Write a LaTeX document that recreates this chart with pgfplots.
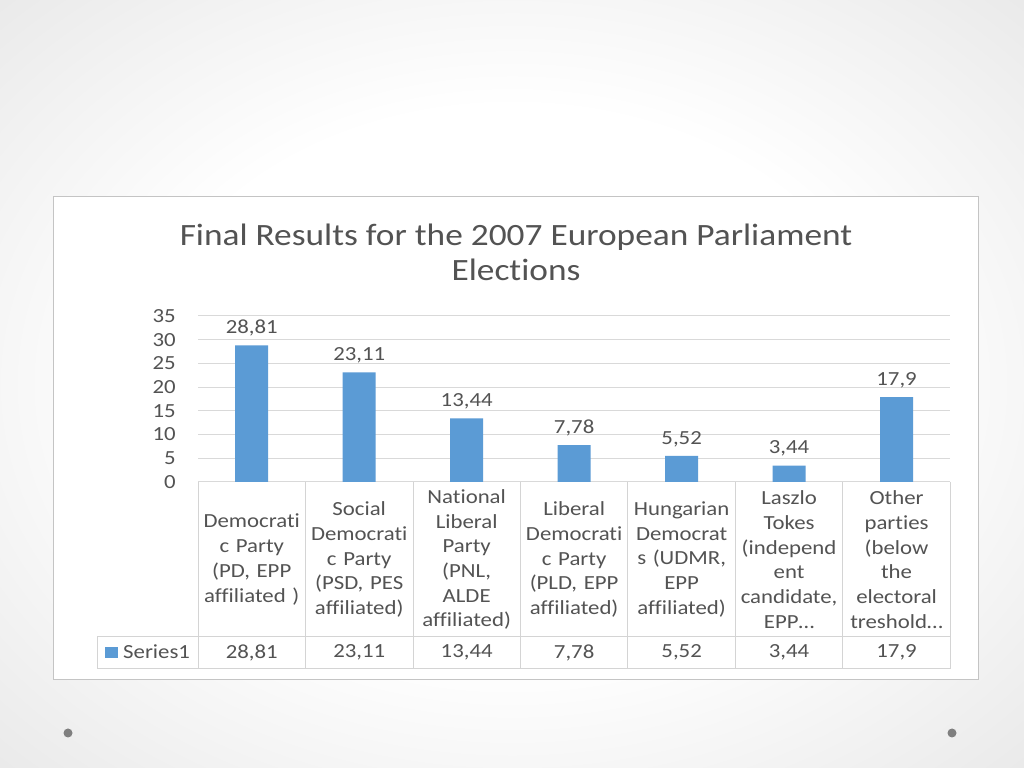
\documentclass[border=0pt]{standalone}
\usepackage{pgfplots}
\pgfplotsset{compat=1.18}
\usepackage{pgfplotstable}
\usepackage{fontspec}
\setmainfont{Carlito}[FakeStretch=1.14, Ligatures=NoCommon]

\definecolor{barblue}{HTML}{5B9BD5}
\definecolor{txt}{HTML}{535353}
\definecolor{gridc}{HTML}{D9D9D9}
\definecolor{tablec}{HTML}{D4D4D4}
\definecolor{boxc}{HTML}{C4C4C4}
\definecolor{bggray}{HTML}{D8D8D8}
\definecolor{dotc}{HTML}{7F7F7F}

\pgfdeclareradialshading{slidebg}{\pgfpoint{0bp}{0bp}}{color(0bp)=(white); color(18bp)=(white); color(50bp)=(bggray)}

\newcommand\bodyfont{\fontsize{20bp}{24.7bp}\selectfont}

% vote share in percent, one row per party
\pgfplotstableread{
x value
0 28.81
1 23.11
2 13.44
3 7.78
4 5.52
5 3.44
6 17.9
}\results

\begin{document}
\begin{tikzpicture}
  \useasboundingbox (0,0) rectangle (1024bp,768bp);
  % slide background and chart frame
  \shade[shading=slidebg] (0,0) rectangle (1024bp,768bp);
  \fill[white] (53bp,88bp) rectangle (978bp,571bp);
  \draw[boxc, line width=1bp] (53bp,88bp) rectangle (978bp,571bp);
  \fill[dotc] (68bp,35bp) circle (4.5bp);
  \fill[dotc] (952bp,35bp) circle (4.5bp);

  \node[align=center, text=txt, font=\fontsize{31bp}{35bp}\selectfont]
    at (516bp,515.5bp) {Final Results for the 2007 European Parliament\\Elections};

  % data table grid
  \begin{scope}[tablec, line width=1bp]
    \draw (198bp,286bp) -- (950.3bp,286bp);
    \foreach \x in {198,305.5,413,520.4,627.9,735.3,842.8,950.3}
      \draw (\x bp,286bp) -- (\x bp,99bp);
    \draw (97bp,131.5bp) -- (950.3bp,131.5bp);
    \draw (97bp,99bp) -- (950.3bp,99bp);
    \draw (97bp,131.5bp) -- (97bp,99bp);
  \end{scope}

  \begin{axis}[
      at={(198bp,286bp)}, anchor=south west,
      scale only axis, width=752.3bp, height=166bp,
      xmin=-0.5, xmax=6.5, ymin=0, ymax=35,
      ytick={0,5,...,35}, xtick={0,...,6},
      xticklabels={
        {Democrati\\c Party\\(PD, EPP\\affiliated )},
        {Social\\Democrati\\c Party\\(PSD, PES\\affiliated)},
        {National\\Liberal\\Party\\(PNL,\\ALDE\\affiliated)},
        {Liberal\\Democrati\\c Party\\(PLD, EPP\\affiliated)},
        {Hungarian\\Democrat\\s (UDMR,\\EPP\\affiliated)},
        {Laszlo\\Tokes\\(independ\\ent\\candidate,\\EPP…},
        {Other\\parties\\(below\\the\\electoral\\treshold…}},
      axis line style={draw=none},
      major tick length=0pt,
      ymajorgrids, grid style={gridc, line width=1bp},
      clip=false,
      tick label style={text=txt, font=\bodyfont},
      yticklabel style={anchor=east, inner sep=0pt, xshift=-22bp},
      xticklabel style={anchor=center, inner sep=0pt, yshift=-77.5bp,
        text width=104bp, align=center},
      /pgf/number format/assume math mode=true,
      /pgf/number format/use comma,
      legend style={at={(-0.1236,-1.027)}, anchor=west, draw=none, fill=none,
        inner sep=0pt, column sep=5bp, font=\bodyfont, text=txt,
        nodes={inner sep=0pt}},
    ]
    \addplot[ybar, bar width=33bp, fill=barblue, draw=none,
      nodes near coords,
      every node near coord/.append style={anchor=south, inner sep=0pt,
        yshift=9bp, text=txt, font=\bodyfont},
      legend image code/.code={\fill[barblue] (0bp,-5.5bp) rectangle (13bp,5.5bp);}]
      table[x=x, y=value] {\results};
    \addlegendentry{Series1}
    % value row of the data table
    \addplot[draw=none, mark=none, forget plot,
      nodes near coords, point meta=explicit,
      every node near coord/.append style={anchor=center, inner sep=0pt,
        text=txt, font=\bodyfont}]
      table[x=x, y expr=-36, meta=value] {\results};
  \end{axis}
\end{tikzpicture}
\end{document}
